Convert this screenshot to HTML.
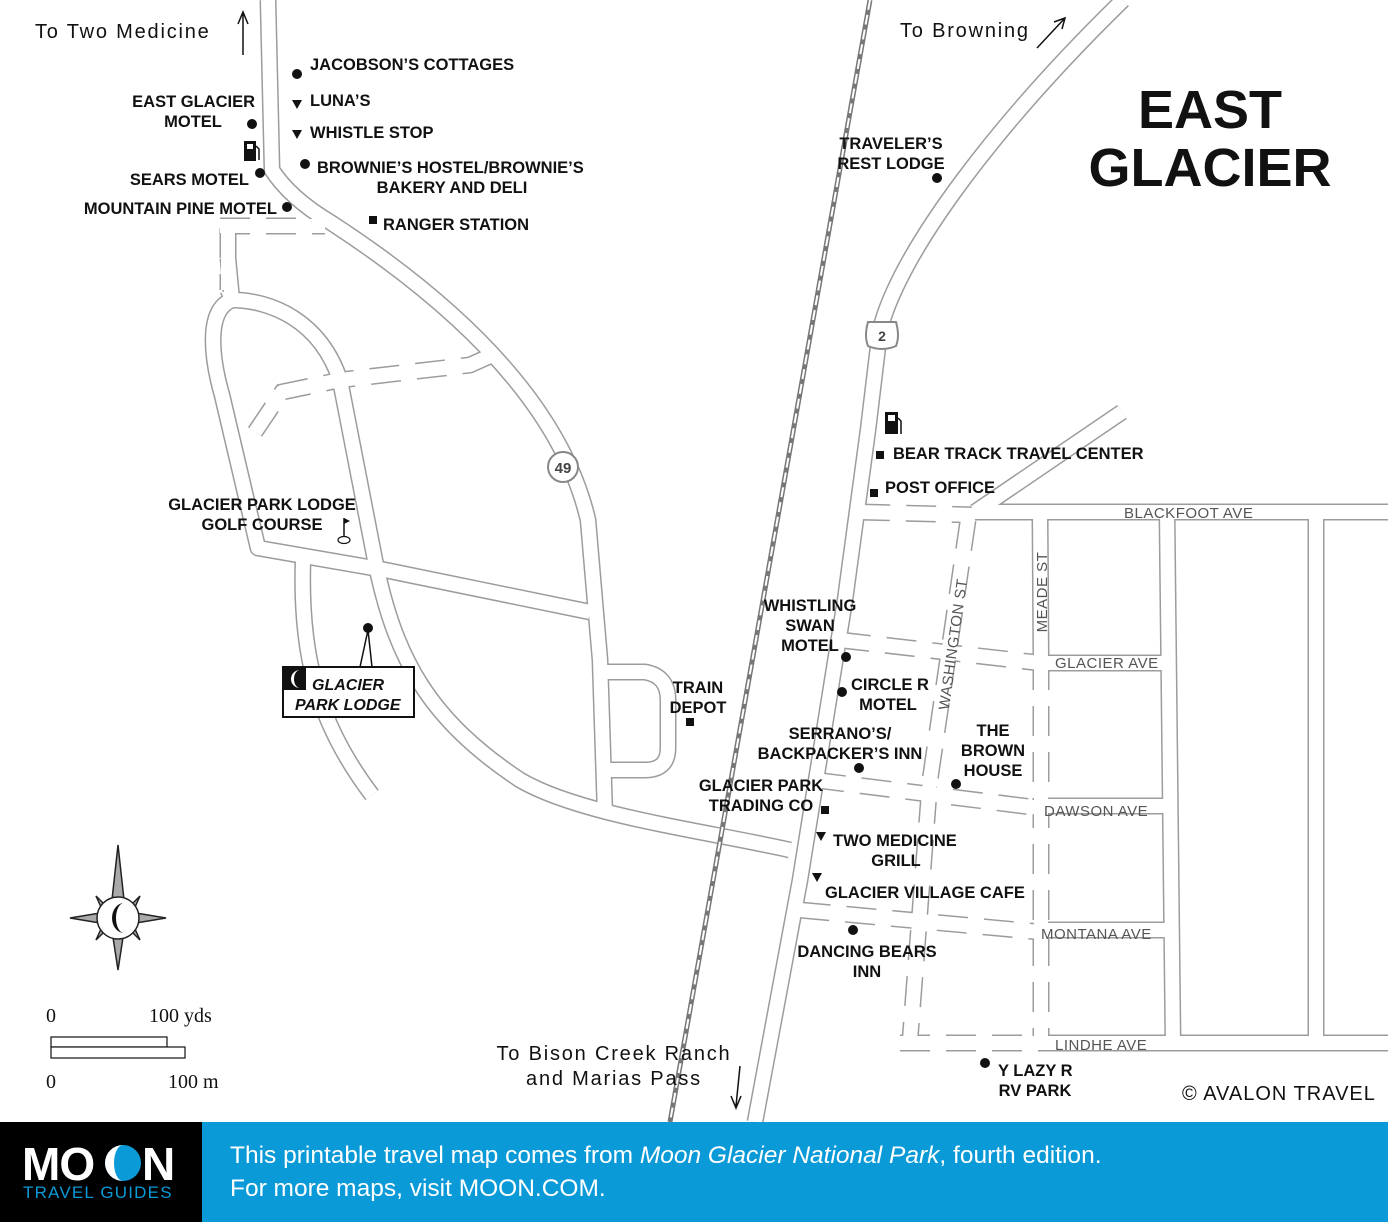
<!DOCTYPE html>
<html><head><meta charset="utf-8"><style>
html,body{margin:0;padding:0;background:#fff}
svg{display:block}
.l{font-family:"Liberation Sans",sans-serif;font-weight:bold;font-size:16.5px;fill:#111}
.s{font-family:"Liberation Sans",sans-serif;font-size:15px;fill:#555;letter-spacing:0.5px}
.r{font-family:"Liberation Sans",sans-serif;font-size:20px;fill:#111;letter-spacing:1.8px}
</style></head><body>
<svg width="1388" height="1222" viewBox="0 0 1388 1222" xmlns="http://www.w3.org/2000/svg">
<defs>
<g id="solid">
<path d="M268,0 L272,170 Q290,198 330,222 C450,300 560,400 588,520 L600,660 L605,815"/>
<path d="M605,672 L645,672 Q668,676 668,700 L668,748 Q668,770 645,770 L610,770"/>
<path d="M228,290 L232,300 C270,300 320,320 340,380 L375,560 C395,660 430,720 520,780 C580,815 700,830 790,850"/>
<path d="M232,300 C205,310 212,360 222,395 L258,548 L385,570 L590,612"/>
<path d="M303,560 C300,650 315,720 372,795"/>
<path d="M228,258 L232,300"/>
<path d="M1123,0 C1000,120 900,250 880,330 L868,430 L845,600 L800,880 L755,1122"/>
<path d="M975,512 L1122,412"/>
<path d="M975,512 L1388,512"/>
<path d="M1167,512 L1173,1045"/>
<path d="M1316,512 L1316,1045"/>
<path d="M1040,512 L1041,660"/>
<path d="M1040,663 L1165,663"/>
<path d="M1040,806 L1165,806"/>
<path d="M1040,930 L1165,930"/>
<path d="M1040,1043 L1388,1043"/>
</g>
<g id="dash">
<path d="M220,226 L325,226"/>
<path d="M228,228 L228,290"/>
<path d="M255,432 L282,392 L340,380 L470,365 L490,356"/>
<path d="M860,512 L975,515"/>
<path d="M968,520 L930,780 L910,1040"/>
<path d="M1041,660 L1041,1043"/>
<path d="M840,640 L1040,663"/>
<path d="M815,780 L1040,808"/>
<path d="M800,910 L1040,932"/>
<path d="M900,1043 L1040,1043"/>
</g>
</defs>
<g fill="none" stroke="#9c9c9c" stroke-width="17" stroke-linejoin="round"><use href="#solid"/></g>
<g fill="none" stroke="#9c9c9c" stroke-width="17" stroke-dasharray="30,16"><use href="#dash"/></g>
<g fill="none" stroke="#fff" stroke-width="14" stroke-linejoin="round"><use href="#solid"/><use href="#dash"/></g>
<!-- railroad -->
<path d="M870,0 L670,1122" stroke="#777" stroke-width="5" fill="none"/>
<path d="M870,0 L670,1122" stroke="#fff" stroke-width="2" stroke-dasharray="10,5" fill="none"/>
<!-- shields -->
<circle cx="563" cy="467" r="15" fill="#fff" stroke="#888" stroke-width="2"/>
<text x="563" y="473" text-anchor="middle" class="l" style="font-size:15px;fill:#444">49</text>
<path d="M868,322 L896,322 Q900,336 896,346 Q882,352 868,346 Q864,336 868,322Z" fill="#fff" stroke="#888" stroke-width="2"/>
<text x="882" y="341" text-anchor="middle" class="l" style="font-size:14px;fill:#444">2</text>
<!-- title -->
<text x="1210" y="128" text-anchor="middle" style="font-family:'Liberation Sans',sans-serif;font-weight:bold;font-size:54px;fill:#111">EAST</text>
<text x="1210" y="186" text-anchor="middle" style="font-family:'Liberation Sans',sans-serif;font-weight:bold;font-size:54px;fill:#111">GLACIER</text>
<!-- directions -->
<text x="35" y="38" class="r">To Two Medicine</text>
<path d="M243,55 L243,14 M238,24 L243,12 L248,24" stroke="#111" stroke-width="1.5" fill="none"/>
<text x="900" y="37" class="r">To Browning</text>
<path d="M1037,48 L1065,18 M1054,22 L1065,18 L1062,29" stroke="#111" stroke-width="1.5" fill="none"/>
<text x="614" y="1060" text-anchor="middle" class="r">To Bison Creek Ranch</text>
<text x="614" y="1085" text-anchor="middle" class="r">and Marias Pass</text>
<path d="M740,1066 L736,1106 M731,1096 L736,1108 L741,1096" stroke="#111" stroke-width="1.5" fill="none"/>
<text x="1182" y="1100" class="r" style="letter-spacing:1px">© AVALON TRAVEL</text>
<!-- markers -->
<g fill="#111">
<circle cx="297" cy="74" r="5"/><circle cx="305" cy="164" r="5"/><circle cx="252" cy="124" r="5"/>
<circle cx="260" cy="173" r="5"/><circle cx="287" cy="207" r="5"/><circle cx="368" cy="628" r="5"/>
<circle cx="937" cy="178" r="5"/><circle cx="846" cy="657" r="5"/><circle cx="842" cy="692" r="5"/>
<circle cx="859" cy="768" r="5"/><circle cx="956" cy="784" r="5"/><circle cx="853" cy="930" r="5"/>
<circle cx="985" cy="1063" r="5"/>
<path d="M292,100 L302,100 L297,109Z M292,130 L302,130 L297,139Z M816,832 L826,832 L821,841Z M812,873 L822,873 L817,882Z"/>
<rect x="369" y="216" width="8" height="8"/><rect x="686" y="718" width="8" height="8"/>
<rect x="876" y="451" width="8" height="8"/><rect x="870" y="489" width="8" height="8"/>
<rect x="821" y="806" width="8" height="8"/>
</g>
<!-- gas pumps -->
<g><rect x="244" y="141" width="12" height="20" fill="#111"/><rect x="247" y="144" width="6" height="5" fill="#fff"/><path d="M256,146 L259,149 L259,160" stroke="#111" stroke-width="1.5" fill="none"/></g>
<g><rect x="885" y="412" width="13" height="22" fill="#111"/><rect x="888" y="415" width="7" height="6" fill="#fff"/><path d="M898,418 L901,421 L901,434" stroke="#111" stroke-width="1.5" fill="none"/></g>
<!-- golf flag -->
<path d="M344,518 L344,537" stroke="#111" stroke-width="1.5"/><path d="M344,518 L350,521 L344,524Z" fill="#111"/>
<ellipse cx="344" cy="540" rx="6" ry="3.5" fill="none" stroke="#111" stroke-width="1.2"/>
<!-- labels -->
<text x="310" y="70" class="l">JACOBSON’S COTTAGES</text>
<text x="310" y="106" class="l">LUNA’S</text>
<text x="310" y="138" class="l">WHISTLE STOP</text>
<text x="317" y="173" class="l">BROWNIE’S HOSTEL/BROWNIE’S</text>
<text x="452" y="193" text-anchor="middle" class="l">BAKERY AND DELI</text>
<text x="383" y="230" class="l">RANGER STATION</text>
<text x="255" y="107" text-anchor="end" class="l">EAST GLACIER</text>
<text x="193" y="127" text-anchor="middle" class="l">MOTEL</text>
<text x="249" y="185" text-anchor="end" class="l">SEARS MOTEL</text>
<text x="277" y="214" text-anchor="end" class="l">MOUNTAIN PINE MOTEL</text>
<text x="262" y="510" text-anchor="middle" class="l">GLACIER PARK LODGE</text>
<text x="262" y="530" text-anchor="middle" class="l">GOLF COURSE</text>
<text x="698" y="693" text-anchor="middle" class="l">TRAIN</text>
<text x="698" y="713" text-anchor="middle" class="l">DEPOT</text>
<text x="891" y="149" text-anchor="middle" class="l">TRAVELER’S</text>
<text x="891" y="169" text-anchor="middle" class="l">REST LODGE</text>
<text x="893" y="459" class="l">BEAR TRACK TRAVEL CENTER</text>
<text x="885" y="493" class="l">POST OFFICE</text>
<text x="810" y="611" text-anchor="middle" class="l">WHISTLING</text>
<text x="810" y="631" text-anchor="middle" class="l">SWAN</text>
<text x="810" y="651" text-anchor="middle" class="l">MOTEL</text>
<text x="851" y="690" class="l">CIRCLE R</text>
<text x="888" y="710" text-anchor="middle" class="l">MOTEL</text>
<text x="840" y="739" text-anchor="middle" class="l">SERRANO’S/</text>
<text x="840" y="759" text-anchor="middle" class="l">BACKPACKER’S INN</text>
<text x="993" y="736" text-anchor="middle" class="l">THE</text>
<text x="993" y="756" text-anchor="middle" class="l">BROWN</text>
<text x="993" y="776" text-anchor="middle" class="l">HOUSE</text>
<text x="761" y="791" text-anchor="middle" class="l">GLACIER PARK</text>
<text x="761" y="811" text-anchor="middle" class="l">TRADING CO</text>
<text x="833" y="846" class="l">TWO MEDICINE</text>
<text x="896" y="866" text-anchor="middle" class="l">GRILL</text>
<text x="825" y="898" class="l">GLACIER VILLAGE CAFE</text>
<text x="867" y="957" text-anchor="middle" class="l">DANCING BEARS</text>
<text x="867" y="977" text-anchor="middle" class="l">INN</text>
<text x="998" y="1076" class="l">Y LAZY R</text>
<text x="1035" y="1096" text-anchor="middle" class="l">RV PARK</text>
<!-- street names -->
<text x="1124" y="518" class="s">BLACKFOOT AVE</text>
<text x="1055" y="668" class="s">GLACIER AVE</text>
<text x="1044" y="816" class="s">DAWSON AVE</text>
<text x="1041" y="939" class="s">MONTANA AVE</text>
<text x="1055" y="1050" class="s">LINDHE AVE</text>
<text transform="translate(958,645) rotate(-82)" text-anchor="middle" class="s">WASHINGTON ST</text>
<text transform="translate(1047,592) rotate(-90)" text-anchor="middle" class="s">MEADE ST</text>
<!-- lodge box -->
<path d="M360,667 L368,630 L372,667" fill="#fff" stroke="#111" stroke-width="1.5"/>
<rect x="283" y="667" width="131" height="50" fill="#fff" stroke="#111" stroke-width="2"/>
<rect x="283" y="667" width="23" height="23" fill="#111"/>
<path d="M300,670 A9,9 0 1 0 300,688 A6,9 0 1 1 300,670Z" fill="#fff"/>
<text x="312" y="690" class="l" style="font-style:italic;font-size:16px">GLACIER</text>
<text x="295" y="710" class="l" style="font-style:italic;font-size:16px">PARK LODGE</text>
<!-- compass -->
<g stroke="#222" stroke-width="1.5" fill="#aaa">
<path d="M118,845 L126,918 L110,918Z M118,970 L126,918 L110,918Z M70,918 L118,910 L118,926Z M166,918 L118,910 L118,926Z"/>
<path d="M96,896 L118,918 L106,918Z M140,896 L118,918 L130,918Z M96,940 L118,918 L106,918Z M140,940 L118,918 L130,918Z"/>
<circle cx="118" cy="918" r="21" fill="#fff"/>
</g>
<path d="M124,903 A12,15 0 1 0 124,933 A8,15 0 1 1 124,903Z" fill="#111"/>
<!-- scale -->
<g stroke="#111" stroke-width="1.2" fill="#fff">
<rect x="51" y="1037" width="116" height="10"/><rect x="51" y="1047" width="134" height="11"/>
</g>
<g style="font-family:'Liberation Serif',serif;font-size:20px;fill:#111">
<text x="46" y="1022">0</text><text x="149" y="1022">100 yds</text>
<text x="46" y="1088">0</text><text x="168" y="1088">100 m</text>
</g>
<!-- banner -->
<rect x="0" y="1122" width="202" height="100" fill="#000"/>
<rect x="202" y="1122" width="1186" height="100" fill="#0a9ad8"/>
<text x="22" y="1180" style="font-family:'Liberation Sans',sans-serif;font-weight:900;font-size:46px;fill:#fff;letter-spacing:-1px">MO</text>
<circle cx="123" cy="1163" r="18" fill="#0a9ad8"/>
<path d="M123,1145 A18,18 0 0 0 123,1181 A9,18 0 0 1 123,1145Z" fill="#fff"/>
<text x="142" y="1180" style="font-family:'Liberation Sans',sans-serif;font-weight:900;font-size:46px;fill:#fff">N</text>
<text x="23" y="1198" style="font-family:'Liberation Sans',sans-serif;font-size:17px;fill:#0a9ad8;letter-spacing:1.2px">TRAVEL GUIDES</text>
<text x="230" y="1163" style="font-family:'Liberation Sans',sans-serif;font-size:24.5px;fill:#fff">This printable travel map comes from <tspan font-style="italic">Moon Glacier National Park</tspan>, fourth edition.</text>
<text x="230" y="1196" style="font-family:'Liberation Sans',sans-serif;font-size:24.5px;fill:#fff">For more maps, visit MOON.COM.</text>
</svg>
</body></html>
